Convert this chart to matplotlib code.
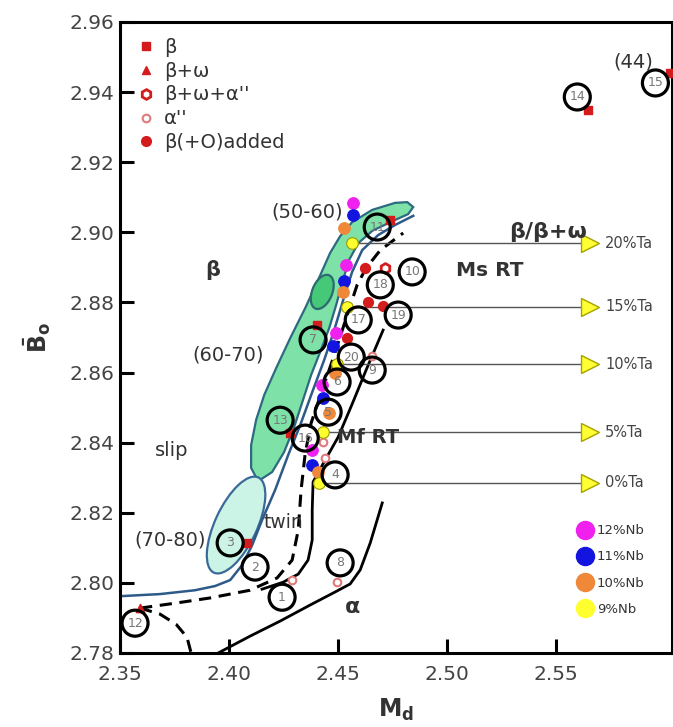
import numpy as np
import matplotlib
matplotlib.use("Agg")
import matplotlib.pyplot as plt
from matplotlib.lines import Line2D
from matplotlib.patches import Polygon, Ellipse
from matplotlib.transforms import Affine2D

plt.rcParams["font.family"] = ["DejaVu Sans"]
plt.rcParams["mathtext.fontset"] = "dejavusans"

# ---------------------------------------------------------------- data
# Nb series, one point per Ta level (20, 15, 10, 5, 0 %Ta)
TA_LABELS = ["20%Ta", "15%Ta", "10%Ta", "5%Ta", "0%Ta"]
NB_LABELS = ["12%Nb", "11%Nb", "10%Nb", "9%Nb"]
NB12_MD = [2.4569, 2.4537, 2.4491, 2.4427, 2.4381]
NB12_BO = [2.9084, 2.8907, 2.8713, 2.8564, 2.8379]
NB11_MD = [2.4569, 2.4528, 2.4477, 2.4431, 2.4381]
NB11_BO = [2.9049, 2.8861, 2.8676, 2.8527, 2.8336]
NB10_MD = [2.4528, 2.4523, 2.4486, 2.4459, 2.4408]
NB10_BO = [2.9012, 2.8830, 2.8599, 2.8484, 2.8316]
NB9_MD = [2.4564, 2.4541, 2.4495, 2.4431, 2.4413]
NB9_BO = [2.8969, 2.8787, 2.8624, 2.8430, 2.8285]
TA_ARROW_MD = 2.5656

# literature alloys (red markers)
BETA_MD = [2.5647, 2.6023, 2.4083, 2.4280, 2.4404, 2.4739]
BETA_BO = [2.9349, 2.9455, 2.8114, 2.8427, 2.8736, 2.9035]
BETA_OMEGA_MD = [2.3592]
BETA_OMEGA_BO = [2.7928]
BETA_OMEGA_ALPHA_MD = [2.4716]
BETA_OMEGA_ALPHA_BO = [2.8898]
ALPHA2_MD = [2.4656, 2.4289, 2.4495, 2.4440, 2.4431]
ALPHA2_BO = [2.8647, 2.8008, 2.8002, 2.8356, 2.8402]
BETA_O_MD = [2.4624, 2.4638, 2.4706, 2.4541]
BETA_O_BO = [2.8898, 2.8801, 2.8790, 2.8698]

# circled alloy numbers
CIRCLE_IDS = ["1", "2", "3", "4", "5", "6", "7", "8", "9", "10",
              "11", "12", "13", "14", "15", "16", "17", "18", "19", "20"]
CIRCLE_MD = [2.4243, 2.4119, 2.4005, 2.4486, 2.4454, 2.4495, 2.4385, 2.4509,
             2.4656, 2.4839, 2.4679, 2.3569, 2.4234, 2.5596, 2.5954, 2.4349,
             2.4592, 2.4693, 2.4775, 2.4560]
CIRCLE_BO = [2.7959, 2.8045, 2.8114, 2.8308, 2.8487, 2.8573, 2.8693, 2.8057,
             2.8607, 2.8887, 2.9015, 2.7885, 2.8464, 2.9386, 2.9426, 2.8413,
             2.8750, 2.8850, 2.8764, 2.8644]

# (50-60)/(60-70) green band outline
BAND_MD = [2.4133, 2.4101, 2.4101, 2.4124, 2.4161, 2.4216, 2.4280, 2.4349,
           2.4408, 2.4463, 2.4509, 2.4564, 2.4656, 2.4761, 2.4817, 2.4844,
           2.4821, 2.4739, 2.4656, 2.4592, 2.4550, 2.4518, 2.4491, 2.4459,
           2.4417, 2.4376, 2.4339, 2.4298, 2.4252, 2.4197]
BAND_BO = [2.8290, 2.8328, 2.8393, 2.8465, 2.8536, 2.8613, 2.8698, 2.8784,
           2.8864, 2.8941, 2.8989, 2.9029, 2.9064, 2.9084, 2.9086, 2.9072,
           2.9052, 2.9029, 2.9004, 2.8969, 2.8921, 2.8855, 2.8793, 2.8727,
           2.8658, 2.8593, 2.8522, 2.8444, 2.8373, 2.8316]

# slip / twin boundary (blue)
BLUE_MD = [2.3500, 2.3683, 2.3844, 2.3936, 2.4005, 2.4060, 2.4106, 2.4151,
           2.4211, 2.4271, 2.4326, 2.4381, 2.4436, 2.4482, 2.4523, 2.4564,
           2.4610, 2.4683, 2.4761, 2.4844]
BLUE_BO = [2.7962, 2.7968, 2.7979, 2.7991, 2.8008, 2.8051, 2.8108, 2.8179,
           2.8265, 2.8365, 2.8450, 2.8544, 2.8636, 2.8721, 2.8807, 2.8887,
           2.8949, 2.8992, 2.9021, 2.9047]

# Ms = RT (dashed)
MS_MD = [2.3592, 2.3752, 2.3913, 2.4096, 2.4220, 2.4289, 2.4317, 2.4330,
         2.4349, 2.4376, 2.4427, 2.4482, 2.4537, 2.4587, 2.4628, 2.4693, 2.4798]
MS_BO = [2.7928, 2.7942, 2.7957, 2.7979, 2.8014, 2.8065, 2.8151, 2.8265,
         2.8370, 2.8456, 2.8550, 2.8650, 2.8756, 2.8850, 2.8898, 2.8949, 2.8998]
MS2_MD = [2.3592, 2.3683, 2.3757, 2.3807, 2.3826]
MS2_BO = [2.7928, 2.7911, 2.7882, 2.7845, 2.7800]

# Mf = RT (solid)
MF_MD = [2.4151, 2.4248, 2.4317, 2.4362, 2.4381, 2.4381, 2.4385, 2.4440,
         2.4500, 2.4564, 2.4628, 2.4706]
MF_BO = [2.7982, 2.8002, 2.8025, 2.8065, 2.8122, 2.8208, 2.8288, 2.8350,
         2.8416, 2.8510, 2.8607, 2.8721]

# alpha boundary (solid)
ALPHA_MD = [2.3950, 2.4096, 2.4234, 2.4372, 2.4486, 2.4555, 2.4601, 2.4647, 2.4702]
ALPHA_BO = [2.7800, 2.7848, 2.7891, 2.7937, 2.7974, 2.7997, 2.8037, 2.8114, 2.8228]

RED = "#d41c1c"
NB_COLORS = ["#f020ee", "#1414e0", "#f0883a", "#ffff30"]
PX_X, PX_Y = 2180.0, 3505.0   # display pixels per data unit


def px_ellipse(ax, md, bo, w, h, angle, **kw):
    tr = Affine2D().scale(1 / PX_X, 1 / PX_Y).translate(md, bo) + ax.transData
    ax.add_patch(Ellipse((0, 0), w, h, angle=angle, transform=tr, **kw))


fig = plt.figure(figsize=(6.73, 7.27), dpi=100)
ax = fig.add_axes([0.1783, 0.1018, 0.8202, 0.8680])
ax.set_xlim(2.35, 2.603)
ax.set_ylim(2.78, 2.96)

# regions
ax.add_patch(Polygon(np.column_stack([BAND_MD, BAND_BO]), closed=True,
                     facecolor="#7ee2a8", edgecolor="#2c6a80", lw=1.6, zorder=1))
px_ellipse(ax, 2.4032, 2.8165, 105, 42, 65, facecolor="#cbf4e6",
           edgecolor="#3a6a98", lw=1.6, zorder=1.2)
px_ellipse(ax, 2.4427, 2.8830, 36, 20, 68, facecolor="#45c878",
           edgecolor="#2c6a70", lw=1.6, zorder=1.3)

# boundaries
ax.plot(BLUE_MD, BLUE_BO, color="#2d5a88", lw=1.8, zorder=2)
ax.plot(MS_MD, MS_BO, color="black", lw=2.2, ls=(0, (4, 2.5)), zorder=2)
ax.plot(MS2_MD, MS2_BO, color="black", lw=2.2, ls=(0, (4, 2.5)), zorder=2)
ax.plot(MF_MD, MF_BO, color="black", lw=2, zorder=2)
ax.plot(ALPHA_MD, ALPHA_BO, color="black", lw=2, zorder=2)

# Ta lines with arrows
for md, bo, lab in zip(NB9_MD, NB9_BO, TA_LABELS):
    ax.plot([md, TA_ARROW_MD], [bo, bo], color="#555555", lw=1, zorder=2.5)
    ax.plot(TA_ARROW_MD, bo, marker=">", ms=13, mfc="#ffff33",
            mec="#a8a000", mew=1, zorder=3)
    ax.text(TA_ARROW_MD + 0.0068, bo, lab, fontsize=10.5, color="#444444",
            va="center", ha="left")

# red literature markers
ax.scatter(BETA_MD, BETA_BO, marker="s", s=36, color=RED, zorder=3)
ax.scatter(BETA_OMEGA_MD, BETA_OMEGA_BO, marker="^", s=36, color=RED, zorder=3)
ax.scatter(BETA_OMEGA_ALPHA_MD, BETA_OMEGA_ALPHA_BO, marker="h", s=50,
           facecolor="white", edgecolor=RED, lw=2, zorder=3)
ax.scatter(ALPHA2_MD, ALPHA2_BO, marker="o", s=30, facecolor="white",
           edgecolor="#e07a7a", lw=1.5, zorder=3)
ax.scatter(BETA_O_MD, BETA_O_BO, marker="o", s=50, color=RED, zorder=3)

# Nb series
for mds, bos, col in zip([NB12_MD, NB11_MD, NB10_MD, NB9_MD],
                         [NB12_BO, NB11_BO, NB10_BO, NB9_BO], NB_COLORS):
    edge = "#9a9a00" if col == "#ffff30" else col
    ax.scatter(mds, bos, s=70, color=col, edgecolor=edge, lw=0.8, zorder=4)

# circled numbers
ax.scatter(CIRCLE_MD, CIRCLE_BO, s=350, facecolor="none", edgecolor="black",
           lw=2.3, zorder=5)
for lab, md, bo in zip(CIRCLE_IDS, CIRCLE_MD, CIRCLE_BO):
    ax.text(md, bo, lab, fontsize=9, color="#777777", ha="center",
            va="center", zorder=6)

# region annotations
txt = dict(color="#333333", ha="center", va="center", zorder=6)
ax.text(2.5853, 2.9486, "(44)", fontsize=14, **txt)
ax.text(2.4358, 2.9058, "(50-60)", fontsize=14, **txt)
ax.text(2.5463, 2.9001, "β/β+ω", fontsize=16, fontweight="bold", **txt)
ax.text(2.5197, 2.8892, "Ms RT", fontsize=14.5, fontweight="bold", **txt)
ax.text(2.3927, 2.8892, "β", fontsize=15, fontweight="bold", **txt)
ax.text(2.3995, 2.8650, "(60-70)", fontsize=14, **txt)
ax.text(2.4635, 2.8416, "Mf RT", fontsize=14, fontweight="bold", **txt)
ax.text(2.3739, 2.8379, "slip", fontsize=14, **txt)
ax.text(2.4248, 2.8173, "twin", fontsize=13.5, **txt)
ax.text(2.3730, 2.8122, "(70-80)", fontsize=14, **txt)
ax.text(2.4564, 2.7931, "α", fontsize=16, fontweight="bold", **txt)

# legends
red_handles = [
    Line2D([], [], ls="", marker="s", ms=6, color=RED),
    Line2D([], [], ls="", marker="^", ms=6, color=RED),
    Line2D([], [], ls="", marker="h", ms=7, mfc="white", mec=RED, mew=2),
    Line2D([], [], ls="", marker="o", ms=5.5, mfc="white", mec="#e07a7a", mew=1.5),
    Line2D([], [], ls="", marker="o", ms=7, color=RED),
]
red_labels = ["β", "β+ω", "β+ω+α''", "α''", "β(+O)added"]
leg1 = ax.legend(red_handles, red_labels, loc="upper left",
                 bbox_to_anchor=(0.031, 0.975), frameon=False, fontsize=14,
                 handlelength=0.9, handletextpad=0.5, labelspacing=0.25,
                 borderpad=0, borderaxespad=0, labelcolor="#333333")
ax.add_artist(leg1)

nb_handles = [Line2D([], [], ls="", marker="o", ms=13, color=c) for c in NB_COLORS]
ax.legend(nb_handles, NB_LABELS, loc="upper left", bbox_to_anchor=(0.828, 0.204),
          frameon=False, fontsize=9.5, handlelength=1.2, handletextpad=0.3,
          labelspacing=1.0, borderpad=0, borderaxespad=0, labelcolor="#333333")

# axes styling
ax.set_xticks([2.35, 2.40, 2.45, 2.50, 2.55])
ax.set_xticklabels(["2.35", "2.40", "2.45", "2.50", "2.55"])
ax.set_yticks(np.round(np.arange(2.78, 2.961, 0.02), 2))
ax.set_yticklabels([f"{v:.2f}" for v in np.arange(2.78, 2.961, 0.02)])
ax.tick_params(direction="in", length=10, width=2.2, labelsize=14.5,
               labelcolor="#444444")
ax.tick_params(axis="x", pad=9)
ax.tick_params(axis="y", pad=4)
for sp in ax.spines.values():
    sp.set_linewidth(2.2)
ax.set_xlabel(r"$\mathbf{M_d}$", fontsize=17, color="#333333", labelpad=9)
ax.set_ylabel(r"$\mathbf{\bar{B}_o}$", fontsize=17, color="#333333", labelpad=12)

fig.savefig("out.png", dpi=100)
